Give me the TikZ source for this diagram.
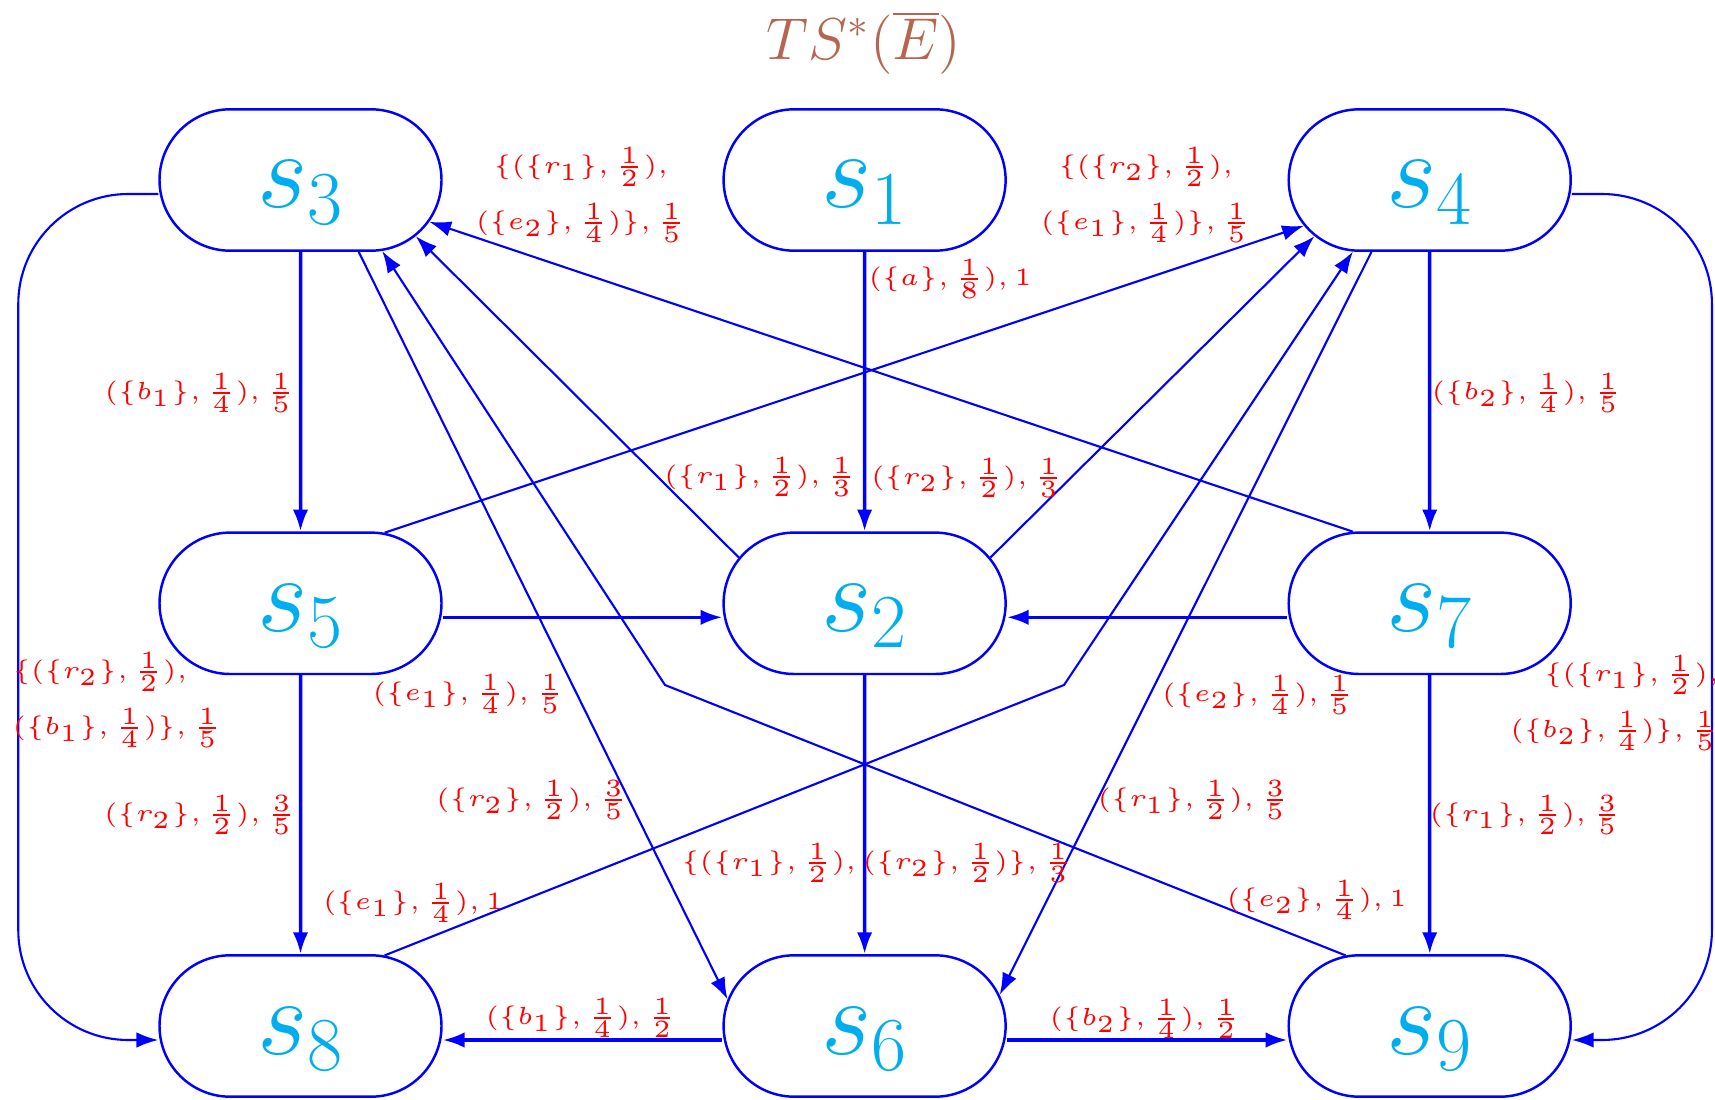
\RequirePackage{fix-cm}
\documentclass[tikz,border=0pt]{standalone}
\usepackage{graphicx}
\usetikzlibrary{shapes.misc,arrows.meta}
\definecolor{flowblue}{RGB}{0,0,255}
\definecolor{statecyan}{RGB}{0,174,239}
\definecolor{titlebrown}{RGB}{181,101,80}
% edge labels: tiny type, enlarged
\newcommand{\elab}[1]{\scalebox{1.41}{$#1$}}
\tikzset{
    >={Latex[length=6.2pt,width=4.4pt]},
    statebox/.style={rounded rectangle, draw=flowblue, line width=0.7pt,
        minimum width=2.82cm, minimum height=1.414cm, inner sep=0pt,
        text height=0.85cm, text depth=0.29cm,
        text=statecyan, font=\fontsize{31}{36}\selectfont},
    mainflow/.style={->, draw=flowblue, line width=1pt},
    thinflow/.style={->, draw=flowblue, line width=0.6pt},
    textlabel/.style={text=red, inner sep=0pt, font=\fontsize{5}{16}\selectfont}
}

\begin{document}
\begin{tikzpicture}
  \useasboundingbox (0,0) rectangle (17.15,10.99);

  % Title
  \node[text=titlebrown, font=\fontsize{16.8}{20}\selectfont] (title) at (8.64,10.56) {$TS^*(\overline{E})$};

  % States
  \node[statebox] (s3) at (3.005,9.19) {$s_3$};
  \node[statebox] (s1) at (8.646,9.19) {$s_1$};
  \node[statebox] (s4) at (14.297,9.19) {$s_4$};
  \node[statebox] (s5) at (3.005,4.957) {$s_5$};
  \node[statebox] (s2) at (8.646,4.957) {$s_2$};
  \node[statebox] (s7) at (14.297,4.957) {$s_7$};
  \node[statebox] (s8) at (3.005,0.73) {$s_8$};
  \node[statebox] (s6) at (8.646,0.73) {$s_6$};
  \node[statebox] (s9) at (14.297,0.73) {$s_9$};

  % Bend points of the two crossing paths
  \coordinate (bendL) at (6.65,4.14);
  \coordinate (bendR) at (10.64,4.14);

  % Straight transitions
  \draw[mainflow] (s1) -- (s2);
  \draw[mainflow] (s3) -- (s5);
  \draw[mainflow] (s4) -- (s7);
  \draw[mainflow] (s5) -- (s8);
  \draw[mainflow] (s7) -- (s9);
  \draw[mainflow] (s2) -- (s6);
  \draw[mainflow] ([yshift=-1.4mm]s5.east) -- ([yshift=-1.4mm]s2.west);
  \draw[mainflow] ([yshift=-1.4mm]s7.west) -- ([yshift=-1.4mm]s2.east);
  \draw[mainflow] ([yshift=-1.4mm]s6.west) -- ([yshift=-1.4mm]s8.east);
  \draw[mainflow] ([yshift=-1.4mm]s6.east) -- ([yshift=-1.4mm]s9.west);

  % Outer loops
  \draw[thinflow, rounded corners=1.1cm] ([yshift=-1.4mm]s3.west) -- ++(-1.4,0) |- ([yshift=-1.4mm]s8.west);
  \draw[thinflow, rounded corners=1.1cm] ([yshift=-1.4mm]s4.east) -- ++(1.4,0) |- ([yshift=-1.4mm]s9.east);

  % Slanted transitions
  \draw[thinflow] (s2.160) -- (s3.334);
  \draw[thinflow] (s2.20) -- (s4.206);
  \draw[thinflow] (s5.40) -- (s4.200);
  \draw[thinflow] (s7.137) -- (s3.342);
  \draw[thinflow] (s3.309) -- (s6.169);
  \draw[thinflow] (s4.231) -- (s6.13);
  \draw[thinflow] (s8.40) -- (bendR) -- (s4.223);
  \draw[thinflow] (s9.140) -- (bendL) -- (s3.319);

  % Labels
  \node[textlabel] (lab12) at (9.50,8.20) {\elab{(\{a\},\frac{1}{8}),1}};
  \node[textlabel] (lab35) at (2.00,7.06) {\elab{(\{b_1\},\frac{1}{4}),\frac{1}{5}}};
  \node[textlabel] (lab47) at (15.27,7.06) {\elab{(\{b_2\},\frac{1}{4}),\frac{1}{5}}};
  \node[textlabel, align=center] (lab73) at (5.81,9.04)
    {\elab{\{(\{r_1\},\frac{1}{2}),}\\\elab{(\{e_2\},\frac{1}{4})\},\frac{1}{5}}};
  \node[textlabel, align=center] (lab54) at (11.46,9.04)
    {\elab{\{(\{r_2\},\frac{1}{2}),}\\\elab{(\{e_1\},\frac{1}{4})\},\frac{1}{5}}};
  \node[textlabel] (lab23) at (7.60,6.22) {\elab{(\{r_1\},\frac{1}{2}),\frac{1}{3}}};
  \node[textlabel] (lab24) at (9.67,6.21) {\elab{(\{r_2\},\frac{1}{2}),\frac{1}{3}}};
  \node[textlabel] (lab52) at (4.685,4.05) {\elab{(\{e_1\},\frac{1}{4}),\frac{1}{5}}};
  \node[textlabel] (lab72) at (12.58,4.04) {\elab{(\{e_2\},\frac{1}{4}),\frac{1}{5}}};
  \node[textlabel, align=left, anchor=west] (lab38) at (0.12,3.99)
    {\elab{\{(\{r_2\},\frac{1}{2}),}\\\elab{(\{b_1\},\frac{1}{4})\},\frac{1}{5}}};
  \node[textlabel, align=right, anchor=east] (lab49) at (17.20,3.96)
    {\elab{\{(\{r_1\},\frac{1}{2}),}\\\elab{(\{b_2\},\frac{1}{4})\},\frac{1}{5}}};
  \node[textlabel] (lab58) at (2.00,2.84) {\elab{(\{r_2\},\frac{1}{2}),\frac{3}{5}}};
  \node[textlabel] (lab36) at (5.32,2.99) {\elab{(\{r_2\},\frac{1}{2}),\frac{3}{5}}};
  \node[textlabel] (lab46) at (11.935,2.99) {\elab{(\{r_1\},\frac{1}{2}),\frac{3}{5}}};
  \node[textlabel] (lab79) at (15.255,2.84) {\elab{(\{r_1\},\frac{1}{2}),\frac{3}{5}}};
  \node[textlabel] (lab26) at (8.77,2.36) {\elab{\{(\{r_1\},\frac{1}{2}),(\{r_2\},\frac{1}{2})\},\frac{1}{3}}};
  \node[textlabel] (lab84) at (4.13,1.96) {\elab{(\{e_1\},\frac{1}{4}),1}};
  \node[textlabel] (lab93) at (13.165,1.99) {\elab{(\{e_2\},\frac{1}{4}),1}};
  \node[textlabel] (lab68) at (5.81,0.81) {\elab{(\{b_1\},\frac{1}{4}),\frac{1}{2}}};
  \node[textlabel] (lab69) at (11.45,0.80) {\elab{(\{b_2\},\frac{1}{4}),\frac{1}{2}}};
\end{tikzpicture}
\end{document}
